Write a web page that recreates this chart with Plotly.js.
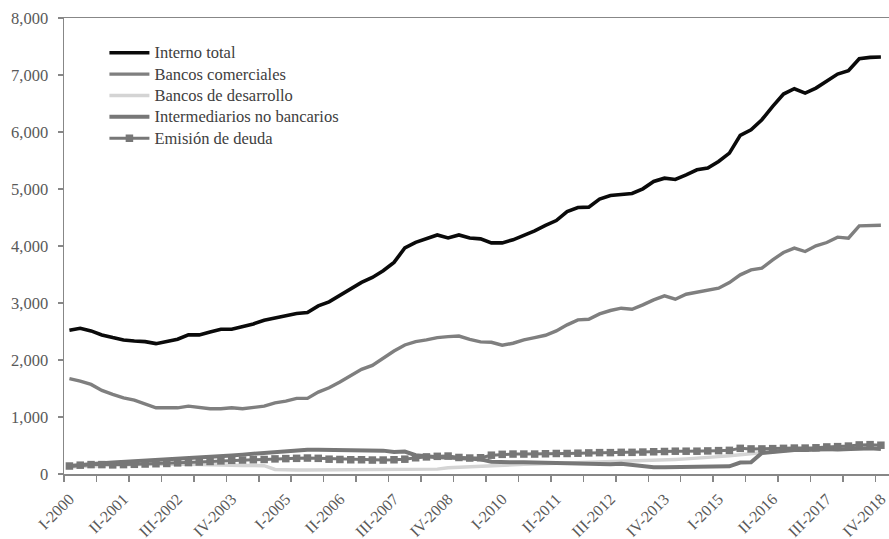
<!DOCTYPE html>
<html><head><meta charset="utf-8">
<script src="https://cdn.plot.ly/plotly-3.0.1.min.js"></script>
<style>html,body{margin:0;padding:0;background:#fff}#chart{width:889px;height:539px}</style>
</head><body><div id="chart"></div>
<script>
const tickLabels = ['I-2000','II-2001','III-2002','IV-2003','I-2005','II-2006','III-2007','IV-2008','I-2010','II-2011','III-2012','IV-2013','I-2015','II-2016','III-2017','IV-2018'];
const seriesNames = ['Interno total','Bancos comerciales','Bancos de desarrollo','Intermediarios no bancarios','Emisión de deuda'];

const internoTotal = [2522,2557,2510,2440,2393,2352,2334,2322,2287,2322,2364,2440,2440,2493,2540,2540,2581,2633,2698,2733,
  2768,2815,2833,2950,3020,3138,3243,3361,3449,3566,3713,3965,4065,4123,4194,4141,4194,4141,
  4125,4055,4055,4108,4184,4266,4360,4447,4605,4676,4682,4822,4886,4898,4921,5003,5132,5190,5167,5249,5337,5366,
  5483,5630,5940,6039,6215,6449,6666,6759,6683,6771,6900,7017,7075,7286,7309,7315];

const bancosComerciales = [1672,1630,1572,1466,1396,1337,1296,1232,1161,1161,1161,1191,1161,1144,1144,1161,1144,1161,1191,1249,
  1279,1326,1326,1437,1513,1613,1718,1836,1906,2041,2158,2264,2323,2352,2393,2410,2420,2360,
  2317,2311,2259,2294,2352,2393,2434,2510,2616,2704,2715,2809,2868,2909,2891,2967,3055,3125,3067,
  3154,3189,3230,3260,3359,3494,3581,3611,3757,3886,3962,3903,4003,4061,4155,4138,4354,4354,4365];

const bancosDesarrollo = [120,130,140,150,155,160,165,170,175,175,175,170,165,155,150,150,150,150,145,
  80,70,70,70,70,75,75,75,75,75,75,75,75,75,80,85,
  110,120,130,140,150,160,165,170,175,180,185,200,210,215,220,225,230,235,240,245,
  250,255,265,275,290,305,320,335,350,370,390,410,420,420,420,425,430,440,440,450,450];

const intermediarios = [140,160,180,190,200,210,220,235,245,255,265,280,290,300,310,325,340,355,370,385,
  395,415,425,425,420,415,415,415,415,410,385,395,
  330,305,295,290,285,280,260,215,205,205,205,200,200,195,190,180,175,170,170,180,160,130,120,120,120,
  125,130,135,135,135,200,205,370,390,405,420,420,430,440,430,440,450,450,440];

const emision = [140,155,165,165,160,165,170,175,180,185,
  195,200,210,220,230,240,245,250,255,265,
  270,275,280,275,260,255,250,250,245,245,
  250,260,285,300,310,315,290,280,285,330,
  345,350,350,350,355,360,360,365,370,375,
  375,380,380,385,390,395,400,400,400,405,
  410,415,450,440,440,445,450,455,455,460,
  475,480,490,510,515,505];

const x = internoTotal.map((_, i) => i);
const tickVals = tickLabels.map((_, k) => k * 5);
const boundaryTicks = [];
for (let b = 0; b <= x.length - 1; b += 3) boundaryTicks.push(b - 0.5);

const FONT = 'Liberation Serif, Times New Roman, serif';
const AX = '#878787';
const legendName = s => '<span style="font-size:16.5px">' + s + '</span>';

const styles = [
  {line: {color: '#0a0a0a', width: 3.6}},
  {line: {color: '#7f7f7f', width: 3.4}},
  {line: {color: '#d4d4d4', width: 3.4}},
  {line: {color: '#777777', width: 4}},
  {mode: 'lines+markers', line: {color: '#777777', width: 3}, marker: {symbol: 'square', size: 7.5, color: '#777777'}}
];
const values = [internoTotal, bancosComerciales, bancosDesarrollo, intermediarios, emision];

const traces = values.map((v, k) => Object.assign(
  {type: 'scatter', mode: 'lines', x: x, y: v, name: legendName(seriesNames[k]), hoverinfo: 'skip'}, styles[k]));

const layout = {
  width: 889, height: 539,
  margin: {l: 64, r: 0, t: 18, b: 65},
  paper_bgcolor: '#ffffff', plot_bgcolor: '#ffffff',
  font: {family: FONT, color: '#595959'},
  showlegend: true,
  legend: {x: 0.049, y: 0.958, xanchor: 'left', yanchor: 'top', bgcolor: 'rgba(0,0,0,0)',
           font: {family: FONT, size: 14.1, color: '#404040'}, itemwidth: 40, tracegroupgap: 0},
  xaxis: {
    range: [-0.5, x.length - 0.25], tickmode: 'array', tickvals: tickVals, ticktext: tickLabels,
    tickangle: -45, ticks: '', showline: true, linecolor: AX, linewidth: 1.5, mirror: true,
    showgrid: false, zeroline: false, tickfont: {family: FONT, size: 16, color: '#595959'},
    ticklabelstandoff: 8, ticklabeloverflow: 'allow',
    minor: {tickmode: 'array', tickvals: boundaryTicks, ticks: 'outside', ticklen: 6, tickwidth: 1.5, tickcolor: AX, showgrid: false}
  },
  yaxis: {
    range: [0, 8000], tick0: 0, dtick: 1000, tickformat: ',d', ticks: 'outside', ticklen: 5,
    tickwidth: 1.5, tickcolor: AX, showline: true, linecolor: AX, linewidth: 1.5,
    showgrid: false, zeroline: false, tickfont: {family: FONT, size: 16.5, color: '#595959'},
    ticklabelstandoff: 6
  }
};

Plotly.newPlot('chart', traces, layout, {staticPlot: true, displayModeBar: false});
</script></body></html>
